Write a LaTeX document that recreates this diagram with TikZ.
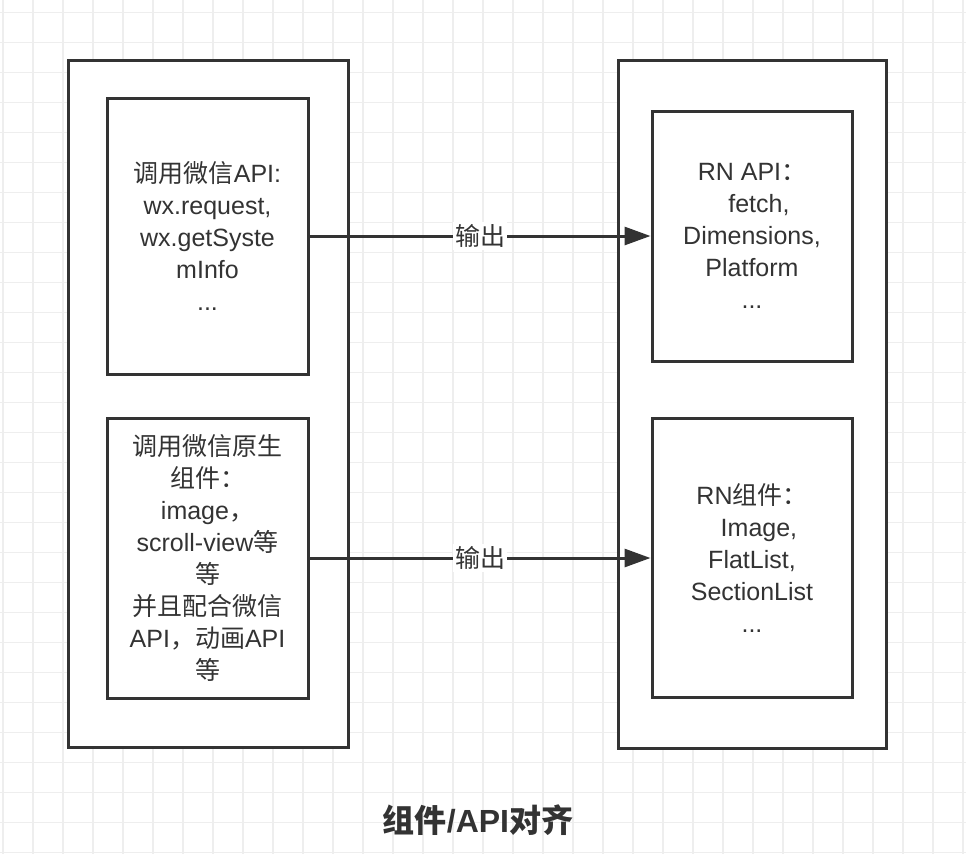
\documentclass[tikz,border=0pt]{standalone}
\usepackage{fontspec}
\usepackage{xcolor}
\usetikzlibrary{arrows.meta}
\setmainfont{Liberation Sans}
\newfontfamily\cjk{Noto Sans CJK SC}
\newcommand{\zh}[1]{{\cjk #1}}
\definecolor{ink}{HTML}{333333}
\definecolor{gridgray}{HTML}{EEEEEE}

\begin{document}
\begin{tikzpicture}[x=1pt,y=-1pt,
  gridline/.style={gridgray,line width=1.6pt},
  frame/.style={draw=ink,line width=3pt,fill=white,inner sep=0pt},
  card/.style={frame,align=center,text=ink,font=\fontsize{25}{32}\selectfont},
  link/.style={draw=ink,line width=3pt,-{Triangle[length=26pt,width=18pt]}},
  tag/.style={fill=white,text=ink,inner sep=2pt,font=\fontsize{25}{28}\selectfont}]
\useasboundingbox (0,0) rectangle (966,854);
% background grid
\fill[white] (0,0) rectangle (966,854);
\foreach \x in {3,33,...,963} \draw[gridline] (\x,0) -- (\x,854);
\foreach \y in {12.5,42.5,...,852.5} \draw[gridline] (0,\y) -- (966,\y);
% outer frames
\node[frame,minimum width=280pt,minimum height=687pt] (wxside) at (208,403.5) {};
\node[frame,minimum width=268pt,minimum height=688pt] (rnside) at (752,404) {};
% mini program side
\node[card,minimum width=201pt,minimum height=276pt] (wxapi) at (207.5,236)
  {\zh{调用微信}API:\\wx.request,\\wx.getSyste\\mInfo\\...};
\node[card,minimum width=201pt,minimum height=280pt] (wxcomp) at (207.5,558)
  {\zh{调用微信原生}\\\zh{组件：}\\image\zh{，}\\scroll-view\zh{等}\\\zh{等}\\\zh{并且配合微信}\\API\zh{，动画}API\\\zh{等}};
% react native side
\node[card,minimum width=200pt,minimum height=250pt] (rnapi) at (752,236)
  {RN API\zh{：}\\\ \ fetch,\\Dimensions,\\Platform\ \\...};
\node[card,minimum width=200pt,minimum height=279pt] (rncomp) at (752,558)
  {RN\zh{组件：}\\\ \ Image,\\FlatList,\ \\SectionList\\...};
% arrows
\draw[link] (wxapi.east) -- node[tag] {\zh{输出}} (rnapi.west);
\draw[link] (wxcomp.east) -- node[tag] {\zh{输出}} (rncomp.west);
% caption
\node[text=ink,font=\fontsize{32}{36}\selectfont\bfseries] (caption) at (478,820) {\zh{组件}/API\zh{对齐}};
\end{tikzpicture}
\end{document}
